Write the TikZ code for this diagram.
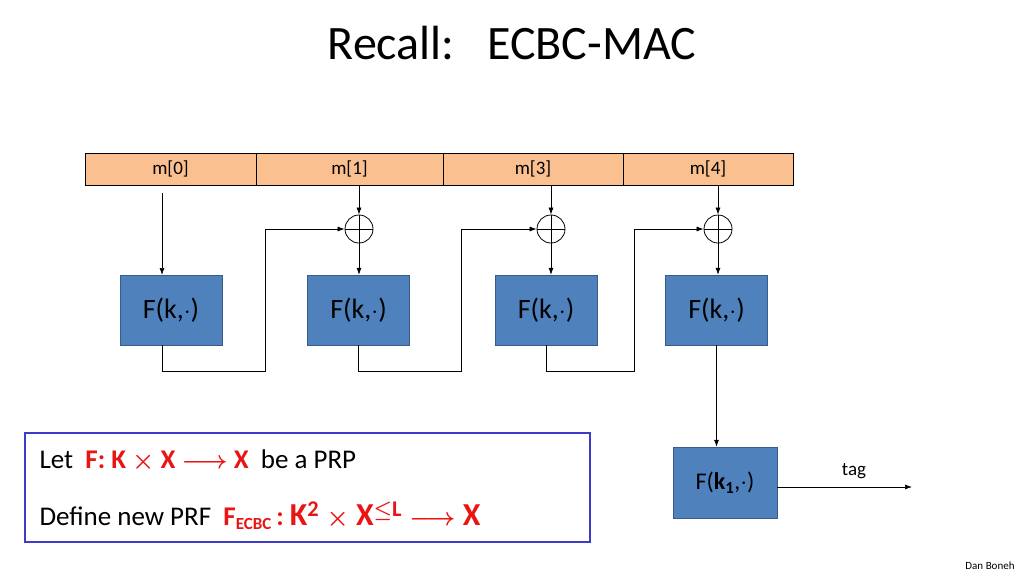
\documentclass[tikz,border=0pt]{standalone}
\usepackage{amsmath,amssymb}
\usepackage{fontspec}
\setmainfont{Carlito}
\usetikzlibrary{arrows.meta}
\definecolor{fblue}{RGB}{79,129,189}
\definecolor{fbord}{RGB}{56,93,138}
\definecolor{bar}{RGB}{250,192,144}
\definecolor{boxb}{RGB}{60,60,200}
\definecolor{red1}{RGB}{235,20,20}
\begin{document}
\begin{tikzpicture}[x=1pt,y=-1pt,
  fbox/.style={draw=fbord,fill=fblue,minimum width=102pt,minimum height=70pt,font=\fontsize{28}{30}\selectfont,inner sep=0pt},
  cell/.style={draw=black,fill=bar,minimum height=32pt,font=\fontsize{19}{20}\selectfont,inner sep=0pt},
  xor/.style={circle,draw,thick,minimum size=28pt,inner sep=0pt,path picture={\draw[thick] (path picture bounding box.north) -- (path picture bounding box.south) (path picture bounding box.west) -- (path picture bounding box.east);}},
  arr/.style={-{Latex[length=7pt,width=5pt]},line width=0.7pt},
  ln/.style={line width=0.7pt}]
\useasboundingbox (0,0) rectangle (1024,576);
\node[font=\fontsize{48}{50}\selectfont] (title) at (512,43) {Recall:\ \ \ ECBC-MAC};
\node[cell,minimum width=171pt] (c0) at (170.5,169) {m[0]};
\node[cell,minimum width=187pt] (c1) at (349.5,169) {m[1]};
\node[cell,minimum width=180pt] (c2) at (533,169) {m[3]};
\node[cell,minimum width=170pt] (c3) at (708,169) {m[4]};
\node[fbox] (f1) at (171,310) {F(k,$\cdot$)};
\node[fbox] (f2) at (358.5,310) {F(k,$\cdot$)};
\node[fbox] (f3) at (546,310) {F(k,$\cdot$)};
\node[fbox] (f4) at (716.5,310) {F(k,$\cdot$)};
\node[fbox,minimum width=104pt,minimum height=71pt,font=\fontsize{24}{26}\selectfont] (f5) at (725,482.5) {F($\mathbf{k_1}$,$\cdot$)};
\node[xor] (x1) at (359,229) {};
\node[xor] (x2) at (551,229) {};
\node[xor] (x3) at (718,229) {};
\coordinate (t1) at (162,193);
\draw[arr] (t1) -- (162,275);
\draw[arr] (c1.south -| x1) -- (x1.north);
\draw[arr] (c2.south -| x2) -- (x2.north);
\draw[arr] (c3.south -| x3) -- (x3.north);
\draw[arr] (x1.south) -- (x1.south |- f2.north);
\draw[arr] (x2.south) -- (x2.south |- f3.north);
\draw[arr] (x3.south) -- (x3.south |- f4.north);
\draw[arr] (162,345) |- (265,371) |- (x1.west);
\draw[arr] (f2.south) |- (461,371) |- (x2.west);
\draw[arr] (f3.south) |- (634,371) |- (x3.west);
\draw[arr] (f4.south) -- (f5.north -| f4.south);
\coordinate (tagend) at (912,487);
\draw[arr] (f5.east |- tagend) -- (tagend);
\node[font=\fontsize{19}{20}\selectfont] (tag) at (854,471) {tag};
\node[draw=boxb,line width=2.5pt,minimum width=565pt,minimum height=109pt] (box) at (307.5,487.5) {};
\node[anchor=west,font=\fontsize{27}{29}\selectfont] (l1) at (36,461) {Let\ \ \textcolor{red1}{\textbf{F: K $\boldsymbol\times$ X $\boldsymbol\longrightarrow$ X}}\ \ be a PRP};
\node[anchor=west,font=\fontsize{27}{29}\selectfont] (l2) at (36,516) {Define new PRF\ \ \textcolor{red1}{\textbf{F\textsubscript{\fontsize{17}{18}\selectfont ECBC}\,:\ \fontsize{32}{34}\selectfont K\textsuperscript{2} $\boldsymbol\times$ X\textsuperscript{$\boldsymbol\leq$L} $\boldsymbol\longrightarrow$ X}}};
\node[font=\fontsize{11}{12}\selectfont] (db) at (990,566) {Dan Boneh};
\end{tikzpicture}
\end{document}
